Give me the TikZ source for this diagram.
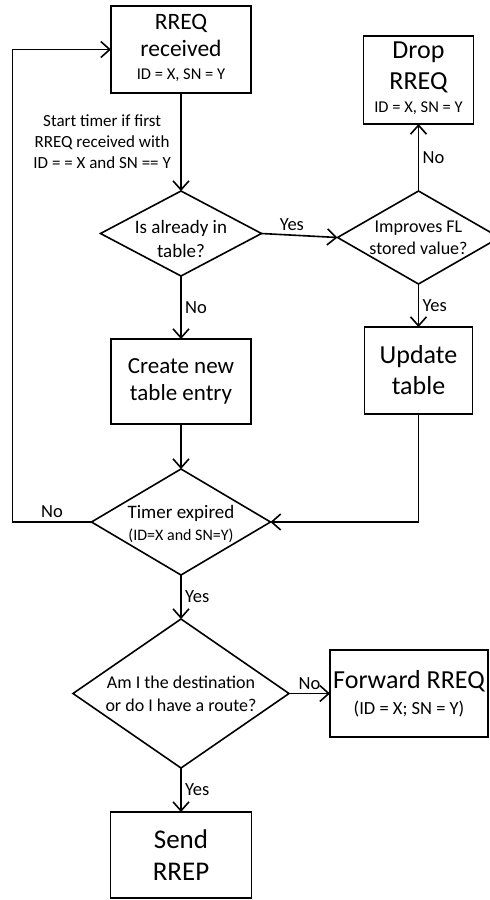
\documentclass[tikz,border=0pt]{standalone}
\usepackage{fontspec}
\setmainfont{Carlito}
\usepackage{tikz}
\usetikzlibrary{positioning,arrows.meta,shapes.geometric}
\tikzstyle{process} = [
rectangle,
minimum width=140pt,
minimum height=86pt,
inner sep=2pt,
outer sep=0pt,
align=center,
text centered,
line width=1.6pt,
draw=black
]
\tikzstyle{decision} = [
diamond,
inner sep=0pt,
outer sep=0pt,
line width=1.6pt,
draw=black
]
\tikzstyle{arrow} = [
line width=1.6pt,
-{Straight Barb[length=9pt,width=16pt]}
]
\tikzstyle{tag} = [
font=\fontsize{18.5}{21}\selectfont,
align=center
]
\newcommand{\smalltxt}{\fontsize{16.5}{19}\selectfont}
\newcommand{\bigtxt}{\fontsize{26}{31}\selectfont}

\begin{document}
\begin{tikzpicture}
					\useasboundingbox (0,0) rectangle (490pt,-900pt);
					%Nodes
					\node[process,minimum height=87pt,text depth=5pt,font=\fontsize{23.5}{27}\selectfont] (rreq) at (181pt,-49.5pt)
						{RREQ\\received\\[-4pt]\smalltxt ID = X, SN = Y};
					\node[decision,minimum width=161pt,minimum height=85pt,below=98pt of rreq,
						label={[align=center,yshift=-5pt,font=\fontsize{19}{24}\selectfont]center:Is already in\\table?}] (known) {};
					\node[decision,minimum width=162pt,minimum height=93pt,right=76pt of known,yshift=-4pt,
						label={[align=center,font=\fontsize{18}{22}\selectfont]center:Improves FL\\stored value?}] (improves) {};
					\node[process,minimum width=110pt,minimum height=88pt,text depth=5pt,above=67pt of improves,font=\bigtxt]
						(drop) {Drop\\RREQ\\[-8pt]\smalltxt ID = X, SN = Y};
					\node[process,minimum width=108pt,minimum height=87pt,below=43pt of improves,font=\bigtxt]
						(update) {Update\\table};
					\node[process,minimum height=85pt,below=63pt of known,font=\fontsize{23}{27}\selectfont]
						(newentry) {Create new\\table entry};
					\node[decision,minimum width=179pt,minimum height=106pt,below=45pt of newentry,
						label={[align=center,yshift=-2pt,font=\fontsize{19}{22}\selectfont]center:Timer expired\\\fontsize{16}{19}\selectfont(ID=X and SN=Y)}] (timer) {};
					\node[decision,minimum width=216pt,minimum height=149pt,below=44pt of timer,
						label={[align=center,font=\fontsize{18}{23}\selectfont]center:Am I the destination\\or do I have a route?}] (dest) {};
					\node[process,minimum width=158pt,minimum height=87pt,inner sep=1pt,right=41pt of dest,font=\bigtxt]
						(forward) {Forward RREQ\\[-5pt]\fontsize{18.5}{21}\selectfont (ID = X; SN = Y)};
					\node[process,minimum width=141pt,below=44pt of dest,font=\fontsize{27}{32}\selectfont]
						(send) {Send\\RREP};
					%Arrows
					\draw[arrow] (rreq.south) -- node[tag,left=6pt,font=\fontsize{17}{21}\selectfont] {Start timer if first\\RREQ received with\\ID = = X and SN == Y} (known.north);
					\draw[arrow] (known.east) -- node[tag,above,pos=0.4] {Yes} (improves.west);
					\draw[arrow] (improves.north) -- node[tag,right] {No} (drop.south);
					\draw[arrow] (improves.south) -- node[tag,right] {Yes} (update.north);
					\draw[arrow] (known.south) -- node[tag,right] {No} (newentry.north);
					\draw[arrow] (newentry.south) -- (timer.north);
					\draw[arrow] (update.south) |- (timer.east);
					\draw[arrow] (timer.west) -- ++(-79pt,0) node[tag,midway,above] {No} |- (rreq.west);
					\draw[arrow] (timer.south) -- node[tag,right] {Yes} (dest.north);
					\draw[arrow] (dest.east) -- node[tag,above] {No} (forward.west);
					\draw[arrow] (dest.south) -- node[tag,right] {Yes} (send.north);
				\end{tikzpicture}
\end{document}
